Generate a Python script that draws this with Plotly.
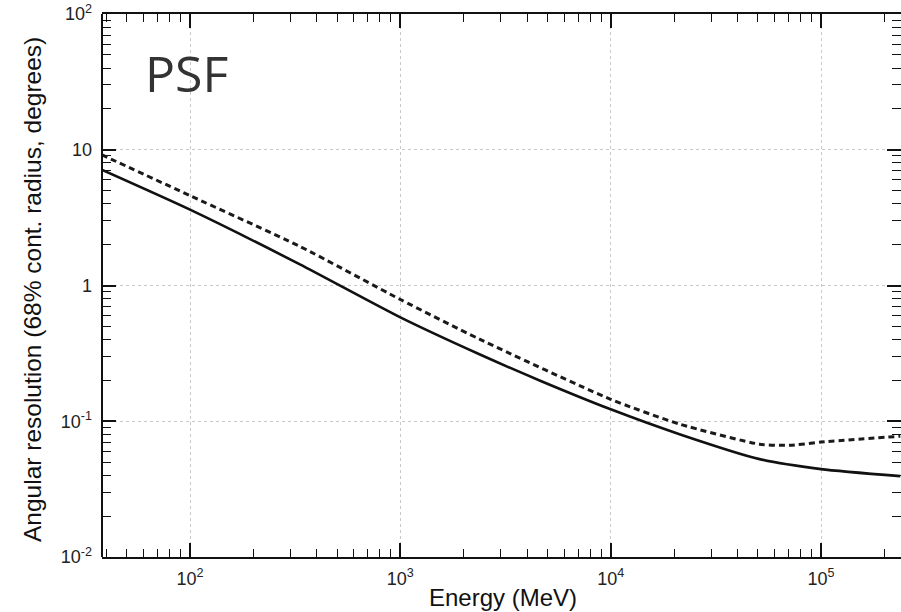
import numpy as np
import plotly.graph_objects as go

# Energy grid (MeV) and PSF 68% containment radius (degrees)
energy_solid = [38, 100, 333, 1000, 2390, 4620, 10000, 21400, 51000, 100000, 238000]
psf_solid = [7.13, 3.62, 1.43, 0.582, 0.310, 0.199, 0.1225, 0.080, 0.0526, 0.0444, 0.0394]

energy_dashed = [38, 100, 333, 1000, 2390, 10000, 21400, 51000, 71000, 100000, 238000]
psf_dashed = [9.19, 4.59, 1.94, 0.789, 0.401, 0.145, 0.095, 0.0678, 0.0665, 0.0702, 0.0776]

x_major = [100, 1000, 10000, 100000]
x_major_text = ["10<sup>2</sup>", "10<sup>3</sup>", "10<sup>4</sup>", "10<sup>5</sup>"]
y_major = [0.01, 0.1, 1, 10, 100]
y_major_text = ["10<sup>-2</sup>", "10<sup>-1</sup>", "1", "10", "10<sup>2</sup>"]

x_minor = [k * 10 ** n for n in range(1, 6) for k in range(2, 10)]
y_minor = [k * 10 ** n for n in range(-2, 2) for k in range(2, 10)]

fig = go.Figure()
fig.add_trace(go.Scatter(x=energy_dashed, y=psf_dashed, mode="lines",
                         line=dict(color="#1a1a1a", width=3, dash="6px,4px", shape="spline", smoothing=0.6),
                         showlegend=False))
fig.add_trace(go.Scatter(x=energy_solid, y=psf_solid, mode="lines",
                         line=dict(color="#111111", width=2.6, shape="spline", smoothing=0.6),
                         showlegend=False))

tickfont = dict(family="Liberation Sans, Arial, sans-serif", size=18, color="#222")

fig.update_xaxes(type="log", range=[1.5816, 5.380],
                 tickmode="array", tickvals=x_major, ticktext=x_major_text,
                 ticks="inside", ticklen=14, tickwidth=1.5, tickcolor="#111",
                 showline=True, linewidth=2, linecolor="#111", mirror="ticks",
                 showgrid=True, gridcolor="#c8c8c8", griddash="dot", gridwidth=1,
                 zeroline=False, tickfont=tickfont, ticklabelstandoff=4,
                 minor=dict(tickmode="array", tickvals=x_minor, ticks="inside",
                            ticklen=8, tickwidth=1.3, tickcolor="#111", showgrid=False))
fig.update_yaxes(type="log", range=[-2, 2],
                 tickmode="array", tickvals=y_major, ticktext=y_major_text,
                 ticks="inside", ticklen=14, tickwidth=1.5, tickcolor="#111",
                 showline=False, mirror="ticks",
                 showgrid=True, gridcolor="#c8c8c8", griddash="dot", gridwidth=1,
                 zeroline=False, tickfont=tickfont, ticklabelstandoff=9,
                 minor=dict(tickmode="array", tickvals=y_minor, ticks="inside",
                            ticklen=9, tickwidth=1.3, tickcolor="#111", showgrid=False))

fig.add_shape(type="line", xref="paper", yref="paper", x0=0, x1=0, y0=0, y1=1,
              line=dict(color="#111", width=2))

fig.add_annotation(text="Energy (MeV)", xref="paper", yref="paper",
                   x=(503 - 102) / 799, y=(557 - 597) / 543, showarrow=False,
                   xanchor="center", yanchor="middle",
                   font=dict(family="Liberation Sans, Arial, sans-serif", size=24, color="#111"))
fig.add_annotation(text="Angular resolution (68% cont. radius, degrees)", xref="paper", yref="paper",
                   x=(32 - 102) / 799, y=(557 - 290) / 543, showarrow=False, textangle=-90,
                   xanchor="center", yanchor="middle",
                   font=dict(family="Liberation Sans, Arial, sans-serif", size=24.5, color="#111"))
fig.add_annotation(text="PSF", xref="paper", yref="paper",
                   x=(186 - 102) / 799, y=(557 - 73) / 543, showarrow=False,
                   xanchor="center", yanchor="middle",
                   font=dict(family="Open Sans, Noto Sans, sans-serif", size=50, color="#333"))

fig.update_layout(width=901, height=612, margin=dict(l=102, r=0, t=14, b=55),
                  paper_bgcolor="white", plot_bgcolor="white")

fig.write_html("out.html")
